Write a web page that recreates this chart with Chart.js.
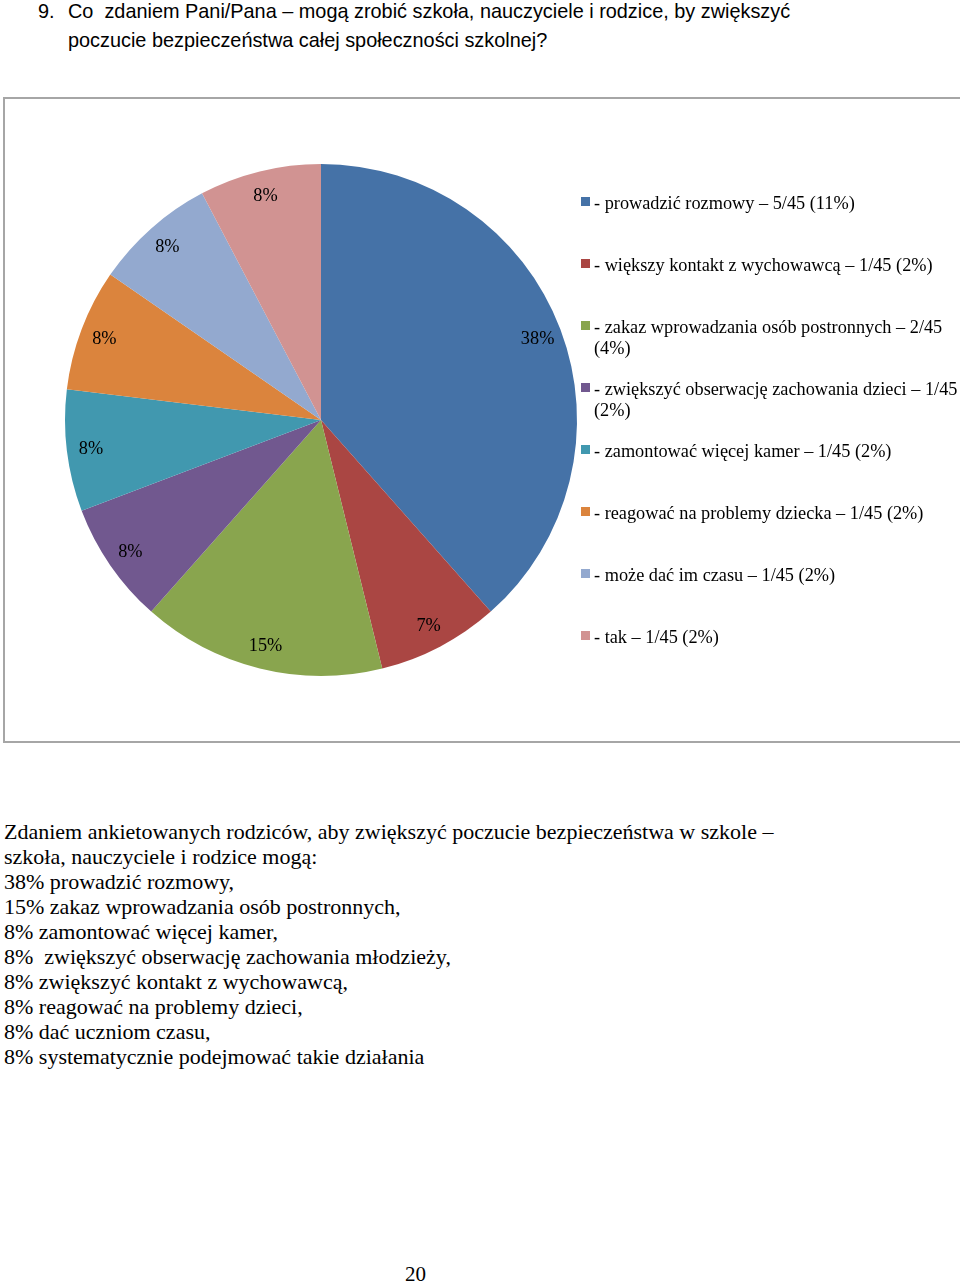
<!DOCTYPE html>
<html>
<head>
<meta charset="utf-8">
<script src="https://cdn.jsdelivr.net/npm/chart.js@4/dist/chart.umd.min.js"></script>
<style>
  body { margin: 0; width: 960px; height: 1285px; overflow: hidden; background: #fff; position: relative; color: #000; font-family: "Liberation Serif", serif; }
  .q { position: absolute; left: 0; top: -4px; font-family: "Liberation Sans Narrow", "Liberation Sans", sans-serif; font-size: 21px; line-height: 29px; white-space: nowrap; }
  .q span { position: absolute; transform: scaleX(0.946); transform-origin: left center; }
  .box { position: absolute; left: 3px; top: 97px; width: 1000px; height: 642px; border: 2px solid #a6a6a6; }
  #chart { position: absolute; left: 0; top: 0; }
  .txt { position: absolute; left: 4px; top: 819px; font-size: 22px; line-height: 25px; white-space: pre; }
  .page { position: absolute; left: 405px; top: 1262px; font-size: 21px; }
</style>
</head>
<body>
<div class="q">
  <span style="left:38px;top:0">9.</span>
  <span style="left:68px;top:0">Co&nbsp; zdaniem Pani/Pana – mogą zrobić szkoła, nauczyciele i rodzice, by zwiększyć</span>
  <span style="left:68px;top:29px">poczucie bezpieczeństwa całej społeczności szkolnej?</span>
</div>
<div class="box"></div>
<canvas id="chart" width="960" height="760"></canvas>
<div class="txt">Zdaniem ankietowanych rodziców, aby zwiększyć poczucie bezpieczeństwa w szkole –
szkoła, nauczyciele i rodzice mogą:
38% prowadzić rozmowy,
15% zakaz wprowadzania osób postronnych,
8% zamontować więcej kamer,
8%  zwiększyć obserwację zachowania młodzieży,
8% zwiększyć kontakt z wychowawcą,
8% reagować na problemy dzieci,
8% dać uczniom czasu,
8% systematycznie podejmować takie działania</div>
<div class="page">20</div>

<script>
// answers (legend lines) and counts
const categories = [
    ["- prowadzić rozmowy – 5/45 (11%)"],
    ["- większy kontakt z wychowawcą – 1/45 (2%)"],
    ["- zakaz wprowadzania osób postronnych – 2/45", "(4%)"],
    ["- zwiększyć obserwację zachowania dzieci – 1/45", "(2%)"],
    ["- zamontować więcej kamer – 1/45 (2%)"],
    ["- reagować na problemy dziecka – 1/45 (2%)"],
    ["- może dać im czasu – 1/45 (2%)"],
    ["- tak – 1/45 (2%)"]
];
const counts = [5, 1, 2, 1, 1, 1, 1, 1];
const sliceLabels = ["38%", "7%", "15%", "8%", "8%", "8%", "8%", "8%"];
const colors = ["#4572a7", "#aa4643", "#89a54e", "#71588f", "#4198af", "#db843d", "#93a9cf", "#d19392"];

const serif = "18.3px 'Liberation Serif', serif";

const sliceLabelPlugin = {
    id: "sliceLabels",
    afterDatasetsDraw(chart) {
        const ctx = chart.ctx;
        ctx.save();
        ctx.font = serif;
        ctx.fillStyle = "#000";
        ctx.textAlign = "center";
        ctx.textBaseline = "middle";
        chart.getDatasetMeta(0).data.forEach((arc, i) => {
            const p = arc.getProps(["x", "y", "startAngle", "endAngle", "outerRadius"], true);
            const mid = (p.startAngle + p.endAngle) / 2;
            const r = p.outerRadius * 0.905;
            ctx.fillText(sliceLabels[i], p.x + Math.cos(mid) * r, p.y + 1 + Math.sin(mid) * r);
        });
        ctx.restore();
    }
};

const legendPlugin = {
    id: "sideLegend",
    afterDraw(chart) {
        const ctx = chart.ctx;
        ctx.save();
        ctx.font = serif;
        ctx.textBaseline = "middle";
        categories.forEach((lines, i) => {
            const y = 202 + i * 62;
            ctx.fillStyle = colors[i];
            ctx.fillRect(581, y - 5, 9, 9);
            ctx.fillStyle = "#000";
            lines.forEach((t, j) => ctx.fillText(t, 594, y + 2 + j * 21));
        });
        ctx.restore();
    }
};

new Chart(document.getElementById("chart"), {
    type: "pie",
    data: {
        labels: categories.map(l => l.join(" ")),
        datasets: [{
            data: counts,
            backgroundColor: colors,
            borderWidth: 0
        }]
    },
    options: {
        responsive: false,
        animation: false,
        layout: { padding: { left: 65, right: 383, top: 164, bottom: 84 } },
        plugins: {
            legend: { display: false },
            tooltip: { enabled: false }
        }
    },
    plugins: [sliceLabelPlugin, legendPlugin]
});
</script>
</body>
</html>
